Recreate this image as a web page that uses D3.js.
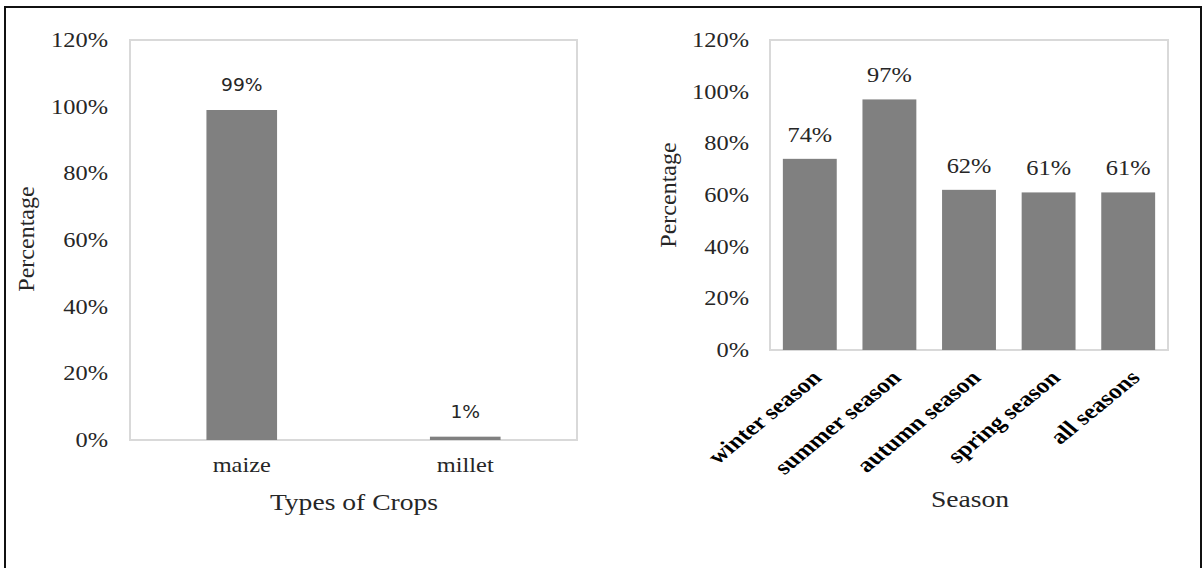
<!DOCTYPE html>
<html>
<head>
<meta charset="utf-8">
<script src="https://cdn.jsdelivr.net/npm/d3@7"></script>
<style>
  html, body { margin: 0; padding: 0; background: #fff; }
  svg { display: block; }
</style>
</head>
<body>
<svg id="chart" width="1203" height="568"></svg>
<script>
// Crop types
const cropCategories = ["maize", "millet"];
const cropValues = [0.99, 0.01];

// Seasons
const seasonCategories = ["winter season", "summer season", "autumn season", "spring season", "all seasons"];
const seasonValues = [0.74, 0.97, 0.62, 0.61, 0.61];

// Shared percentage axis ticks
const yTicks = [0, 0.2, 0.4, 0.6, 0.8, 1.0, 1.2];

const svg = d3.select("#chart");
const pct = d3.format(".0%");
const barColor = "#808080";
const textColor = "#262626";
const SERIF = "Liberation Serif, Times New Roman, serif";
const SANS = "DejaVu Sans, Verdana, sans-serif";
const SX = 1.22; // text is drawn slightly wide

// place a text at (x, y) with horizontal widening
function placeText(sel, x, y, sx, extra) {
  return sel.attr("x", 0).attr("y", 0)
    .attr("transform", (d, i) => {
      const px = typeof x === "function" ? x(d, i) : x;
      const py = typeof y === "function" ? y(d, i) : y;
      return `translate(${px},${py}) scale(${sx},1)` + (extra || "");
    });
}

// outer frame
svg.append("rect")
  .attr("x", 5).attr("y", 7)
  .attr("width", 1196).attr("height", 575)
  .attr("fill", "none").attr("stroke", "#111").attr("stroke-width", 2);

function drawPanel(opts) {
  const { left, right, top, bottom, cats, vals, barFrac, labelFont } = opts;
  const g = svg.append("g");

  const x = d3.scaleBand()
    .domain(cats)
    .range([left, right])
    .paddingInner(1 - barFrac)
    .paddingOuter((1 - barFrac) / 2);
  const y = d3.scaleLinear().domain([0, 1.2]).range([bottom, top]);

  // plot area border
  g.append("rect")
    .attr("x", left).attr("y", top)
    .attr("width", right - left).attr("height", bottom - top)
    .attr("fill", "none").attr("stroke", "#d9d9d9").attr("stroke-width", 2);

  // y axis labels
  const yAxis = g.append("g")
    .attr("transform", `translate(${opts.yLabelX},0)`)
    .call(d3.axisLeft(y).tickValues(yTicks).tickFormat(pct).tickSize(0).tickPadding(0));
  yAxis.select(".domain").remove();
  yAxis.selectAll("text")
    .attr("font-family", SERIF)
    .attr("font-size", 20)
    .attr("fill", textColor)
    .attr("transform", `scale(${SX},1)`);

  // bars
  g.selectAll("rect.bar")
    .data(vals)
    .join("rect")
    .attr("class", "bar")
    .attr("x", (d, i) => x(cats[i]))
    .attr("width", x.bandwidth())
    .attr("y", d => y(d))
    .attr("height", d => bottom - y(d))
    .attr("fill", barColor);

  // value labels
  g.selectAll("text.value")
    .data(vals)
    .join("text")
    .attr("class", "value")
    .call(placeText, (d, i) => x(cats[i]) + x.bandwidth() / 2, d => y(d) - opts.labelGap, labelFont.sx)
    .attr("text-anchor", "middle")
    .attr("font-family", labelFont.family)
    .attr("font-size", labelFont.size)
    .attr("fill", textColor)
    .text(d => pct(d));

  return { g, x, y };
}

// ----- Left panel: types of crops -----
const leftPanel = drawPanel({
  left: 130, right: 577, top: 40, bottom: 440,
  cats: cropCategories, vals: cropValues,
  barFrac: 0.316, yLabelX: 108, labelGap: 19,
  labelFont: { family: SANS, size: 17, sx: 1.1 }
});

leftPanel.g.selectAll("text.cat")
  .data(cropCategories)
  .join("text")
  .attr("class", "cat")
  .call(placeText, d => leftPanel.x(d) + leftPanel.x.bandwidth() / 2, 472, SX)
  .attr("text-anchor", "middle")
  .attr("font-family", SERIF)
  .attr("font-size", 20)
  .attr("fill", textColor)
  .text(d => d);

leftPanel.g.append("text")
  .call(placeText, 354, 510, 1.15)
  .attr("text-anchor", "middle")
  .attr("font-family", SERIF)
  .attr("font-size", 24)
  .attr("fill", textColor)
  .text("Types of Crops");

leftPanel.g.append("text")
  .attr("transform", "translate(34,239) rotate(-90)")
  .attr("text-anchor", "middle")
  .attr("font-family", SERIF)
  .attr("font-size", 24)
  .attr("fill", textColor)
  .text("Percentage");

// ----- Right panel: seasons -----
const rightPanel = drawPanel({
  left: 770, right: 1168, top: 40, bottom: 350,
  cats: seasonCategories, vals: seasonValues,
  barFrac: 0.677, yLabelX: 749, labelGap: 17,
  labelFont: { family: SERIF, size: 20, sx: SX }
});

rightPanel.g.selectAll("text.cat")
  .data(seasonCategories)
  .join("text")
  .attr("class", "cat")
  .call(placeText, d => rightPanel.x(d) + rightPanel.x.bandwidth() / 2 + 13, 379, SX, " rotate(-45)")
  .attr("text-anchor", "end")
  .attr("font-family", SERIF)
  .attr("font-weight", "bold")
  .attr("font-size", 21)
  .attr("fill", "#000")
  .text(d => d);

rightPanel.g.append("text")
  .call(placeText, 970, 507, 1.15)
  .attr("text-anchor", "middle")
  .attr("font-family", SERIF)
  .attr("font-size", 24)
  .attr("fill", textColor)
  .text("Season");

rightPanel.g.append("text")
  .attr("transform", "translate(676,195) rotate(-90)")
  .attr("text-anchor", "middle")
  .attr("font-family", SERIF)
  .attr("font-size", 24)
  .attr("fill", textColor)
  .text("Percentage");
</script>
</body>
</html>
